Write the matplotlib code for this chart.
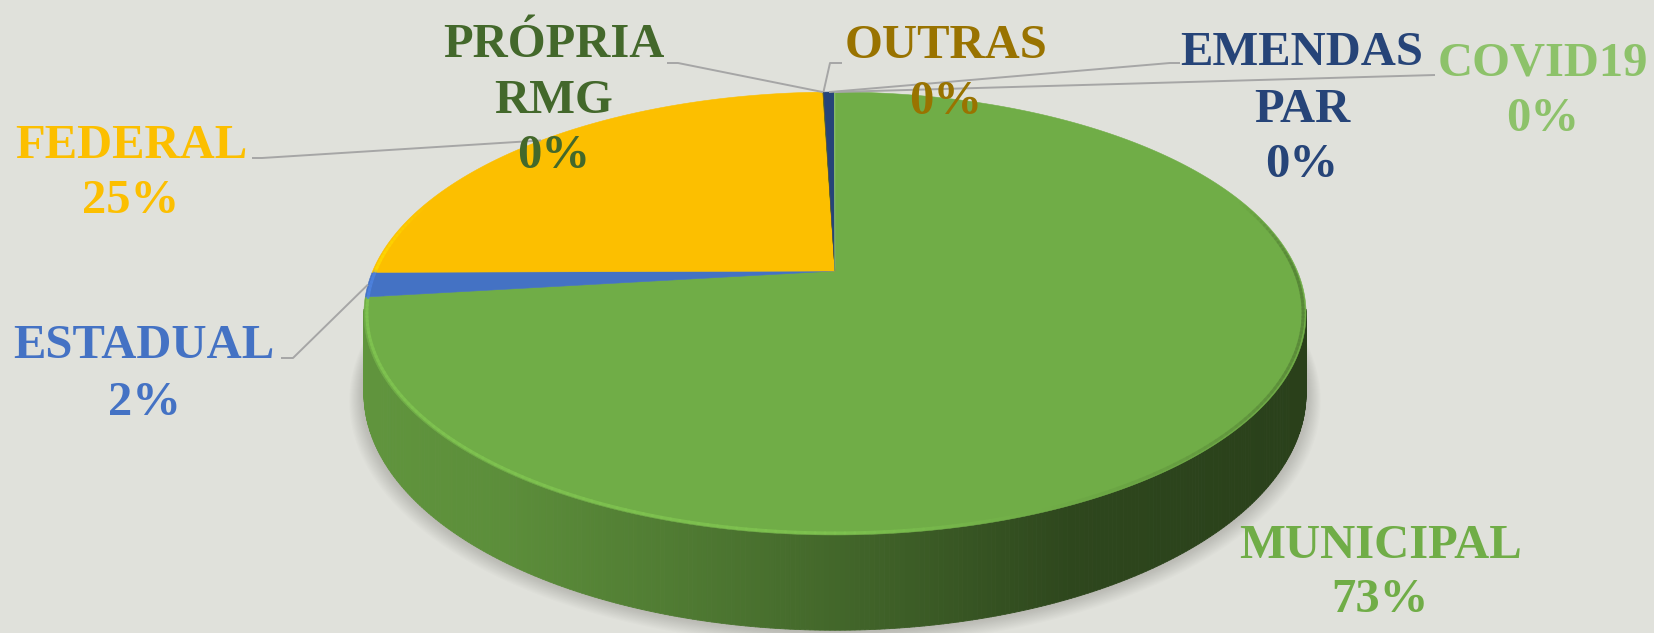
import numpy as np
import matplotlib
matplotlib.use("Agg")
import matplotlib.pyplot as plt
from matplotlib.collections import PolyCollection, LineCollection
from matplotlib.colors import to_rgb

# ---------------- data ----------------
categories = ["MUNICIPAL", "ESTADUAL", "FEDERAL", "PRÓPRIA\nRMG", "OUTRAS", "EMENDAS\nPAR", "COVID19"]
values = [73.1, 1.8, 24.6, 0.02, 0.01, 0.45, 0.02]
colors = ["#70AD47", "#4472C4", "#FCBF00", "#43682B", "#997300", "#264478", "#8DC26A"]

# ---------------- layout (pixel space) ----------------
W, Hpx = 1654, 633
BG = "#E0E1DB"
cx, cy = 835.0, 271.0          # projected centre of the disc top
A, B, P = 462.3, 213.3, 0.1919 # perspective ellipse parameters
DEPTH = 77.0                   # thickness of the pie

# label centre x and baselines for each line of text
label_cx = [1380, 144, 131, 554, 946, 1302, 1543]
label_base = [[558, 612], [358, 415], [158, 213], [57, 113, 168],
              [58, 114], [65, 122, 177], [75, 131]]
# label side anchor for leader lines (None = no leader)
leader_start = [None, [(281, 358), (293, 358)], [(252, 158), (262, 158)],
                [(667, 63), (678, 63)], [(842, 63), (830, 63)],
                [(1180, 63), (1170, 63)], [(1435, 75)]]


def proj(theta_deg, r=1.0, z=0.0):
    t = np.radians(theta_deg)
    u = r * np.sin(t)
    v = r * np.cos(t)
    w = 1.0 + P * v
    x = cx + A * u / w
    y = cy + (-B * v + z * DEPTH) / w
    return x, y


fig = plt.figure(figsize=(W / 100, Hpx / 100), dpi=100)
fig.patch.set_facecolor(BG)
ax = fig.add_axes([0, 0, 1, 1])
ax.set_xlim(0, W)
ax.set_ylim(Hpx, 0)
ax.axis("off")
ax.set_facecolor(BG)

total = float(sum(values))
fracs = np.array(values) / total
bounds = np.concatenate([[0.0], np.cumsum(fracs) * 360.0])

# ---------------- soft shadow ----------------
th_all = np.linspace(0, 360, 721)
for k in range(14, 0, -1):
    sx, sy = proj(th_all, r=1.0 + k / 470.0, z=1.0)
    sy = sy + k * 0.35
    ax.fill(sx, sy, color="#7a7a72", alpha=0.026, lw=0, zorder=1)

# ---------------- side wall ----------------
def side_factor(x):
    t = (x - (cx - 471)) / 942.0
    return np.interp(t, [0, 0.15, 0.35, 0.55, 0.75, 1.0],
                     [0.86, 0.82, 0.70, 0.56, 0.41, 0.37])

def slice_of(theta):
    idx = np.searchsorted(bounds, theta, side="right") - 1
    return int(min(max(idx, 0), len(values) - 1))

quads = []
step = 0.5
for th in np.arange(0, 360, step):
    vmid = np.cos(np.radians(th + step / 2))
    if vmid > -P + 0.02:      # back-facing wall: hidden
        continue
    x1, y1 = proj(th, z=0)
    x2, y2 = proj(th + step, z=0)
    x3, y3 = proj(th + step, z=1)
    x4, y4 = proj(th, z=1)
    base = np.array(to_rgb(colors[slice_of(th + step / 2)]))
    f = side_factor((x1 + x2) / 2)
    quads.append((vmid, [(x1, y1), (x2, y2), (x3, y3), (x4, y4)],
                  tuple(np.clip(base * f, 0, 1))))
quads.sort(key=lambda q: -q[0])
ax.add_collection(PolyCollection([q[1] for q in quads],
                                 facecolors=[q[2] for q in quads],
                                 edgecolors=[q[2] for q in quads],
                                 linewidths=0.6, zorder=2))

# ---------------- top face ----------------
for i, (a0, a1) in enumerate(zip(bounds[:-1], bounds[1:])):
    if a1 - a0 <= 0:
        continue
    th = np.linspace(a0, a1, max(int((a1 - a0) * 4), 2))
    rx, ry = proj(th)
    xs = np.concatenate([[cx], rx])
    ys = np.concatenate([[cy], ry])
    ax.fill(xs, ys, color=colors[i], lw=0.4, ec=colors[i], zorder=3)

# bevel highlight / shade along the rim
segs, scol = [], []
for th in np.arange(40, 300, 1.0):
    x1, y1 = proj(th, r=0.994)
    x2, y2 = proj(th + 1, r=0.994)
    u = np.sin(np.radians(th + 0.5))
    v = np.cos(np.radians(th + 0.5))
    base = np.array(to_rgb(colors[slice_of(th + 0.5)]))
    f = 1.13 - 0.35 * u if u > 0 else 1.13
    a = np.clip((0.35 - v) / 0.35, 0, 1)
    segs.append([(x1, y1), (x2, y2)])
    scol.append(tuple(np.clip(base * f, 0, 1)) + (float(a) * 0.85,))
ax.add_collection(LineCollection(segs, colors=scol, linewidths=2.2,
                                 capstyle="round", zorder=4))

# ---------------- labels & leaders ----------------
for i, name in enumerate(categories):
    pct = f"{fracs[i] * 100:.0f}%"
    lines = name.split("\n") + [pct]
    for txt, yb in zip(lines, label_base[i]):
        ax.text(label_cx[i], yb, txt, ha="center", va="baseline",
                fontsize=35, fontweight="bold", family="Liberation Serif",
                color=colors[i], zorder=6)
    if leader_start[i] is not None:
        mid = (bounds[i] + bounds[i + 1]) / 2
        ex, ey = proj(mid, r=1.0)
        pts = leader_start[i] + [(ex, ey)]
        ax.plot([p[0] for p in pts], [p[1] for p in pts], color="#A6A6A6",
                lw=1.4, zorder=5, solid_capstyle="butt")

fig.savefig("out.png", dpi=100, facecolor=BG)
